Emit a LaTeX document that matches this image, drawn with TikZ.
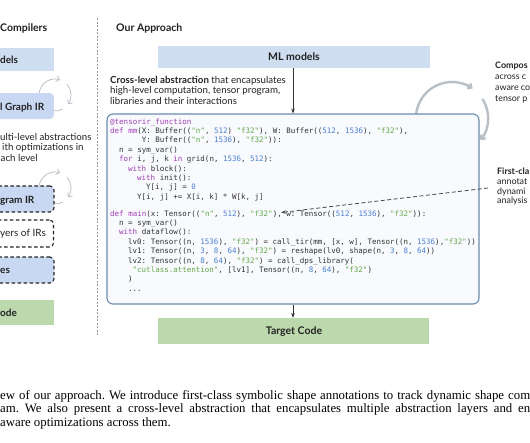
\documentclass[tikz,border=0pt]{standalone}
\usepackage{fontspec}
\setmainfont{Liberation Serif}
\newfontfamily\lato{Lato}
\newfontfamily\cmono{DejaVu Sans Mono}
\usetikzlibrary{arrows.meta}
\definecolor{mlblue}{HTML}{CFDDF1}
\definecolor{irblue}{HTML}{C9D8F2}
\definecolor{tgreen}{HTML}{BCD8AD}
\definecolor{cborder}{HTML}{6A8CAE}
\definecolor{cfill}{HTML}{F8FAFD}
\definecolor{kwc}{HTML}{A23BB5}
\definecolor{numc}{HTML}{4A7FD2}
\definecolor{strc}{HTML}{62A748}
\definecolor{ctext}{HTML}{333333}
\definecolor{cycgray}{HTML}{B9BFC6}
\definecolor{ink}{HTML}{222222}
\newcommand\ckw[1]{\textcolor{kwc}{#1}}
\newcommand\cnum[1]{\textcolor{numc}{#1}}
\newcommand\cstr[1]{\textcolor{strc}{#1}}
\tikzset{
  head/.style={font=\lato\bfseries\fontsize{10.5}{12}\selectfont, anchor=base west, inner sep=0pt, text=ink},
  boxlab/.style={font=\lato\bfseries\fontsize{10}{12}\selectfont, anchor=base west, inner sep=0pt, text=ink},
  boxlabr/.style={font=\lato\fontsize{10}{12}\selectfont, anchor=base west, inner sep=0pt, text=ink},
  body/.style={font=\lato\fontsize{9.7}{11}\selectfont, anchor=base west, inner sep=0pt, text=ink},
  side/.style={font=\lato\fontsize{8.9}{11}\selectfont, anchor=base west, inner sep=0pt, text=ink},
  codeline/.style={font=\cmono\frenchspacing\fontsize{7.5}{9.4}\selectfont, anchor=base west, inner sep=0pt, text=ctext},
  capt/.style={font=\frenchspacing\fontsize{12.8}{14}\selectfont, anchor=base west, inner sep=0pt, text=black},
  cyc/.style={draw=cycgray, line width=#1, -{Straight Barb[length=3pt, width=6pt]}},
  cycplain/.style={draw=cycgray, line width=#1},
  irbox/.style={fill=irblue, draw=none, inner sep=0pt, rounded corners=4pt},
  dashbox/.style={draw=ink, line width=1.1pt, dash pattern=on 3.5pt off 2.5pt, inner sep=0pt, rounded corners=4pt},
  flow/.style={draw=ctext, line width=0.6pt, -{Stealth[length=5pt, width=3.5pt]}},
}
\begin{document}
\begin{tikzpicture}[x=1pt, y=1pt]
\useasboundingbox (0,0) rectangle (530,-442);
\clip (0,0) rectangle (530,-442);
\fill[white] (0,0) rectangle (530,-442);

% ---------------- left column ----------------
\node[head] (lhead) at (0,-31.5) {Compilers};
\node[fill=mlblue, minimum width=120pt, minimum height=23pt, inner sep=0pt, anchor=east] (lml) at (54,-59.5) {};
\node[boxlab] (lmltxt) at (0,-63.5) {dels};

% cycle arrows above graph IR
\draw[cyc=0.8pt] (55,-95) ++(180:16) arc[start angle=180, end angle=72, radius=16];
\draw[cyc=0.8pt] (55,-95) ++(42:16) arc[start angle=42, end angle=-35, radius=16];
\draw[cycplain=0.8pt] (55,-95) ++(-100:16) arc[start angle=-100, end angle=-62, radius=16];
\node[irbox, minimum width=120pt, minimum height=26pt, anchor=east] (lgraph) at (54,-106) {};
\node[boxlab] (lgraphtxt) at (0,-110.5) {l Graph IR};

\node[body] (lmulti1) at (0,-140) {ulti-level abstractions};
\node[body] (lmulti2) at (2,-150.5) {ith optimizations in};
\node[body] (lmulti3) at (0.5,-161) {ach level};

% cycle arrows above program IR
\draw[cyc=0.8pt] (55,-188) ++(180:16) arc[start angle=180, end angle=72, radius=16];
\draw[cyc=0.8pt] (55,-188) ++(42:16) arc[start angle=42, end angle=-35, radius=16];
\draw[cycplain=0.8pt] (55,-188) ++(-100:16) arc[start angle=-100, end angle=-62, radius=16];
\node[irbox, dashbox, minimum width=120pt, minimum height=26pt, anchor=east] (lprog) at (54.5,-199) {};
\node[boxlab] (lprogtxt) at (0,-203.5) {gram IR};

\node[dashbox, fill=white, minimum width=120pt, minimum height=27pt, anchor=east] (llayers) at (54,-233.5) {};
\node[boxlabr] (llayerstxt) at (0,-236.5) {yers of IRs};

\node[irbox, dashbox, minimum width=120pt, minimum height=26pt, anchor=east] (llib) at (54.5,-270) {};
\node[boxlab] (llibtxt) at (0,-273.5) {es};

\node[fill=tgreen, minimum width=120pt, minimum height=25pt, inner sep=0pt, anchor=east] (ltarget) at (54,-312.5) {};
\node[boxlab] (ltargettxt) at (0,-316.5) {ode};

% separator
\coordinate (septop) at (97,-18);
\coordinate (sepbot) at (97,-335);
\draw[draw=gray!80, line width=0.6pt, dash pattern=on 2pt off 1.5pt] (septop) -- (sepbot);

% ---------------- right: our approach ----------------
\node[head] (rhead) at (116,-31) {Our Approach};
\node[fill=mlblue, minimum width=272pt, minimum height=22pt, inner sep=0pt] (ml) at (293.5,-57) {};
\node[font=\lato\bfseries\fontsize{10.5}{12}\selectfont, text=ink, inner sep=0pt] (mltxt) at (294,-57) {ML models};

\node[body] (cross1) at (110,-83) {\bfseries Cross-level abstraction\mdseries{} that encapsulates};
\node[body] (cross2) at (110,-93.5) {high-level computation, tensor program,};
\node[body] (cross3) at (110,-104) {libraries and their interactions};

% composable cycle arrows
\draw[cyc=2.4pt] (452,-118) ++(174:36) arc[start angle=174, end angle=55, radius=36];
\draw[cyc=2.4pt] (452,-118) ++(32:36) arc[start angle=32, end angle=-38, radius=36];

% code box
\node[draw=cborder, fill=cfill, line width=1.1pt, rounded corners=6pt, minimum width=372pt, minimum height=190pt, inner sep=0pt] (code) at (293,-209) {};

\node[codeline] (c1) at (110,-124) {\ckw{@tensorir\_function}};
\node[codeline] (c2) at (110,-133.4) {\ckw{def} \ckw{mm}(X: Buffer((\cstr{"n"}, \cnum{512}) \cstr{"f32"}), W: Buffer((\cnum{512}, \cnum{1536}), \cstr{"f32"}),};
\node[codeline] (c3) at (141.6,-142.8) {Y: Buffer((\cstr{"n"}, \cnum{1536}), \cstr{"f32"})):};
\node[codeline] (c4) at (119,-152.2) {n = sym\_var()};
\node[codeline] (c5) at (119,-161.6) {\ckw{for} i, j, k \ckw{in} grid(n, \cnum{1536}, \cnum{512}):};
\node[codeline] (c6) at (128,-171) {\ckw{with} block():};
\node[codeline] (c7) at (137,-180.4) {\ckw{with} init():};
\node[codeline] (c8) at (146,-189.8) {Y[i, j] = \cnum{0}};
\node[codeline] (c9) at (137,-199.2) {Y[i, j] += X[i, k] * W[k, j]};

\node[codeline] (c10) at (110,-216) {\ckw{def} \ckw{main}(x: Tensor((\cstr{"n"}, \cnum{512}), \cstr{"f32"}), w: Tensor((\cnum{512}, \cnum{1536}), \cstr{"f32"})):};
\node[codeline] (c11) at (119,-225.4) {n = sym\_var()};
\node[codeline] (c12) at (119,-234.8) {\ckw{with} dataflow():};
\node[codeline] (c13) at (128,-244.2) {lv0: Tensor((n, \cnum{1536}), \cstr{"f32"}) = call\_tir(mm, [x, w], Tensor((n, \cnum{1536}),\cstr{"f32"}))};
\node[codeline] (c14) at (128,-253.6) {lv1: Tensor((n, \cnum{3}, \cnum{8}, \cnum{64}), \cstr{"f32"}) = reshape(lv0, shape(n, \cnum{3}, \cnum{8}, \cnum{64}))};
\node[codeline] (c15) at (128,-263) {lv2: Tensor((n, \cnum{8}, \cnum{64}), \cstr{"f32"}) = call\_dps\_library(};
\node[codeline] (c16) at (132.5,-272.4) {\cstr{"cutlass.attention"}, [lv1], Tensor((n, \cnum{8}, \cnum{64}), \cstr{"f32"})};
\node[codeline] (c17) at (128,-281.8) {)};
\node[codeline] (c18) at (128,-291.2) {...};

% flow arrows
\draw[flow] (ml.south -| code.north) -- (code.north);
\node[fill=tgreen, minimum width=271pt, minimum height=26pt, inner sep=0pt] (target) at (293.5,-331) {};
\node[font=\lato\bfseries\fontsize{10.5}{12}\selectfont, text=ink, inner sep=0pt] (targettxt) at (294,-332) {Target Code};
\draw[flow] (code.south) -- (target.north -| code.south);

% right annotations
\node[side] (comp1) at (495,-68) {\bfseries Compos};
\node[side] (comp2) at (495,-79) {across c};
\node[side] (comp3) at (495,-90) {aware co};
\node[side] (comp4) at (495,-101) {tensor p};

\node[side] (first1) at (497,-174) {\bfseries First-cla};
\node[side] (first2) at (497,-184) {annotat};
\node[side] (first3) at (497,-194) {dynami};
\node[side] (first4) at (497,-203.5) {analysis};

\coordinate (dashstart) at (488,-188);
\coordinate (dashend) at (281,-212.5);
\draw[draw=ctext!90, line width=0.8pt, dash pattern=on 4pt off 2.5pt, -{Stealth[length=5pt, width=3.5pt]}] (dashstart) -- (dashend);

% caption
\node[capt] (cap1) at (0,-399) {\makebox[530pt][s]{ew of our approach. We introduce first-class symbolic shape annotations to track dynamic shape com}};
\node[capt] (cap2) at (0,-412.5) {\makebox[530pt][s]{am.  We also present a cross-level abstraction that encapsulates multiple abstraction layers and en}};
\node[capt] (cap3) at (0,-426) {aware optimizations across them.};
\end{tikzpicture}
\end{document}
